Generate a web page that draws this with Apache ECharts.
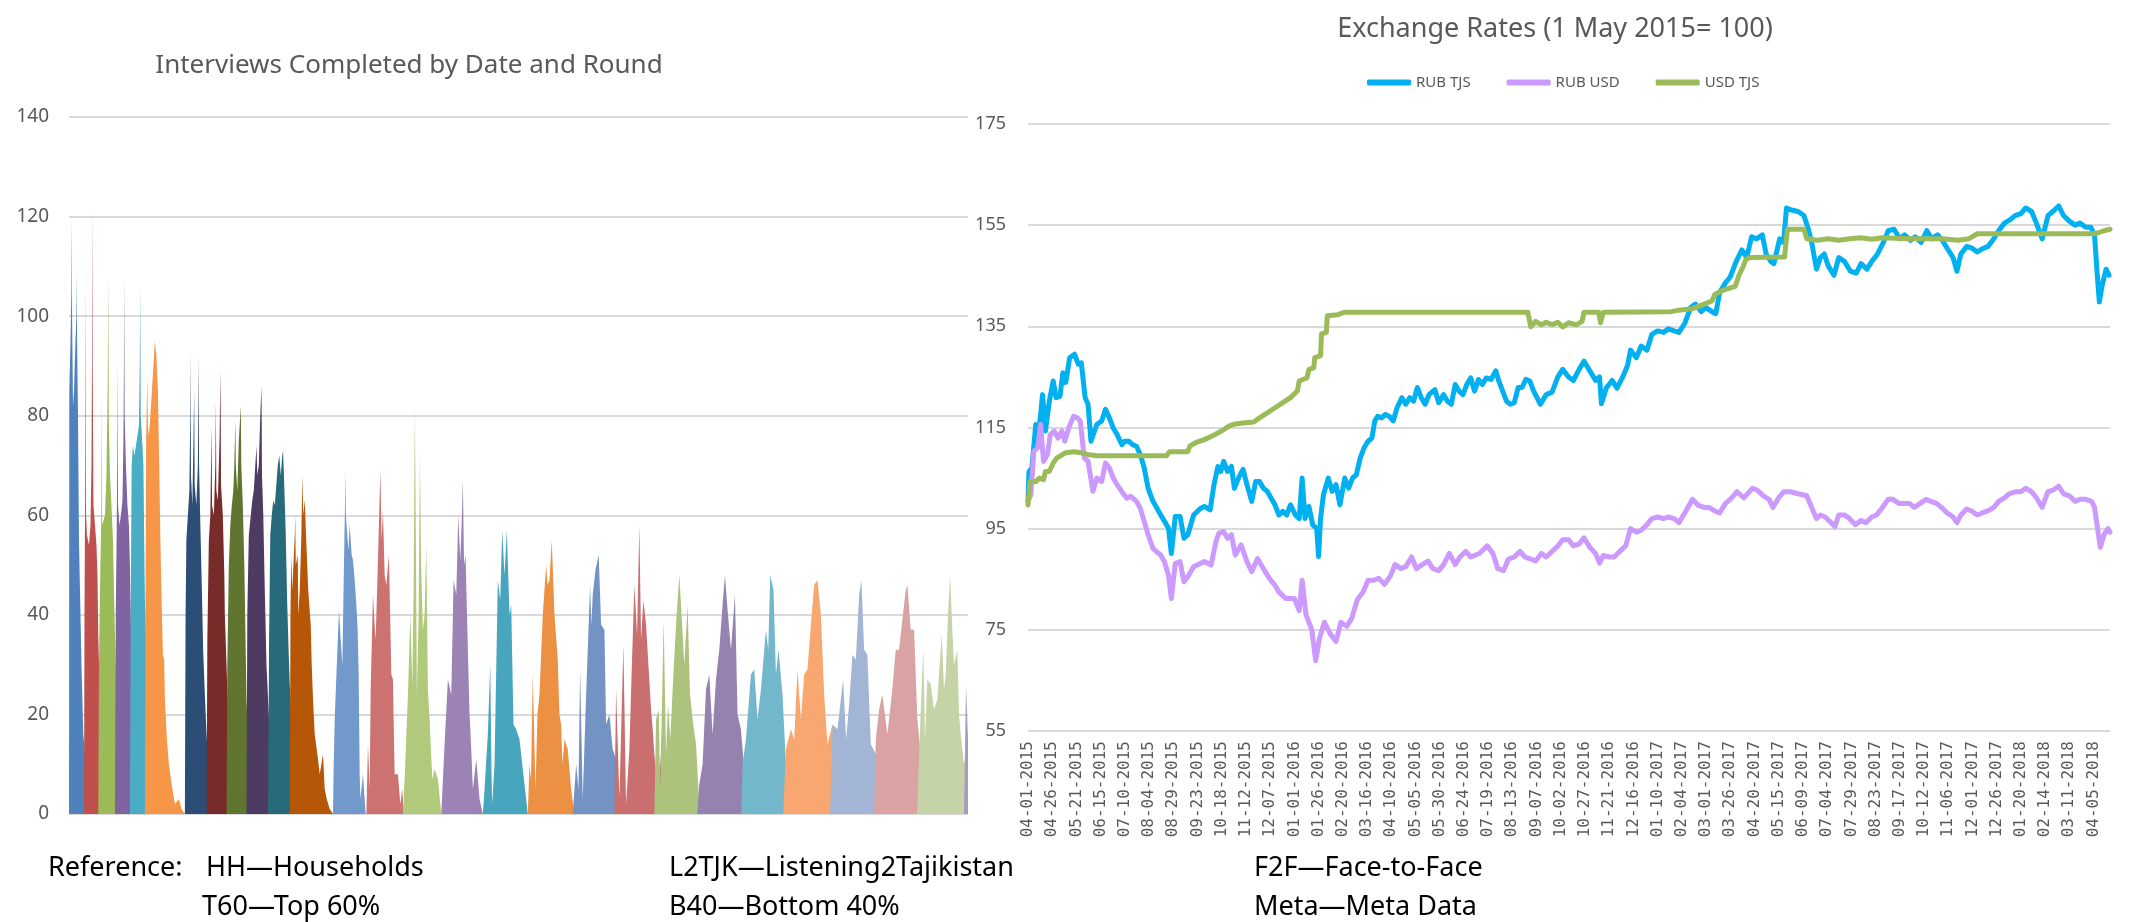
<!DOCTYPE html>
<html>
<head>
<meta charset="utf-8">
<title>Interviews and exchange rates</title>
<script src="https://cdn.jsdelivr.net/npm/echarts@6/dist/echarts.min.js"></script>
<style>
  html, body { margin: 0; padding: 0; background: #fff; }
  #main { width: 2142px; height: 922px; }
</style>
</head>
<body>
<div id="main"></div>
<script>
// left chart: interviews per day, one area per round  [day, interviews]
const r01 = [[0,0],[0.3,85],[1.5,95],[2.4,105],[2.7,120],[3.1,100],[4,82],[5,85],[6.5,95],[7.4,100],[7.7,109],[8.1,95],[9,80],[10,55],[11,45],[12.5,30],[14.3,16],[17,10],[19.3,7],[22,2],[24,0]];
const r02 = [[15,0],[15.5,40],[16.3,70],[16.7,107],[17.1,60],[18,56],[20,54],[21.5,58],[22.5,70],[23,90],[23.3,122],[23.7,90],[24.5,62],[26,58],[27.5,54],[28.5,48],[29.3,36],[31,22],[32.7,10],[34.3,4],[37,1],[40,0]];
const r03 = [[29.3,0],[30,30],[31,45],[32.3,60],[32.7,85],[33.1,58],[34.5,58],[36,60],[37.5,68],[38.7,85],[39.3,108],[39.8,80],[41,68],[42.5,62],[44,55],[45,45],[46,36],[47.5,25],[49.3,16],[51,6],[55,2],[60,1],[63,0]];
const r04 = [[46,0],[46.8,40],[47.8,58],[48.3,70],[48.7,91],[49.1,62],[50.5,58],[52,60],[53.5,63],[54.5,75],[55,90],[55.3,108],[55.7,80],[57,70],[58.5,62],[60,58],[61,50],[62.7,30],[64.3,18],[66,10],[69.3,3],[73,0]];
const r05 = [[61,0],[61.8,40],[62.7,70],[64,74],[65.5,72],[67,74],[68.5,76],[70,78],[70.8,90],[71.3,106],[71.8,80],[73,76],[74.5,70],[75.3,55],[76,43],[77.5,33],[79.3,26],[81,18],[84.3,10],[86,4],[88,0]];
const r06 = [[76,0],[76.5,40],[77.2,74],[78.3,88],[79,78],[80,76],[81.5,80],[83,85],[84.5,90],[86,95],[87.5,92],[89,85],[90.3,70],[91.5,55],[92.7,43],[94,32],[95.3,31],[96,23],[98,15],[100,10],[102.7,6],[104.3,6],[106,2],[110,3],[112.7,1],[116,0]];
const r07 = [[116,0],[116.7,40],[117.5,55],[119,60],[120.5,65],[121.4,80],[121.7,93],[122.1,68],[123.5,62],[124.6,75],[125.3,85],[125.8,66],[127.5,62],[129,70],[129.7,92],[130.2,70],[131.5,58],[132.7,48],[134.3,33],[136,24],[137.7,16],[140,9],[142.7,6],[144,0]];
const r08 = [[137.7,0],[138.5,35],[140,55],[141.5,60],[142.7,78],[143.2,62],[145,60],[146.5,70],[147,83],[147.5,65],[149,63],[150.7,75],[151.7,89],[152.2,66],[154,60],[155.5,48],[156,40],[157.7,30],[160,16],[162.5,8],[164.3,0]];
const r09 = [[157.7,0],[158.5,30],[160,50],[161.5,58],[163,62],[164.5,65],[165.5,70],[166.5,79],[167,70],[168.5,65],[170,75],[172,82],[172.5,70],[174,62],[175.5,50],[176.5,38],[177.7,23],[180,12],[182.7,4],[185,0]];
const r10 = [[177.7,0],[178.5,40],[180,56],[182,60],[183.5,63],[185,65],[186.5,70],[187.7,74],[188.5,68],[190,70],[191.5,80],[192.7,86],[193.2,68],[194.5,60],[196,45],[197.7,30],[200,20],[202,12],[204.3,6],[207,0]];
const r11 = [[199.3,0],[200.3,35],[201.5,56],[203,60],[204.5,63],[206,62],[207.5,66],[209,70],[210.5,72],[212,68],[213.5,72],[214.3,73],[215.5,66],[217,56],[218.5,42],[220,32],[221,26],[223,18],[226,10],[228,4],[231,0]];
const r12 = [[221,0],[221.7,40],[222.5,52],[223.5,45],[226,56],[226.5,60],[227,50],[229,52],[229.5,40],[231,45],[232.5,55],[233.7,68],[234.5,60],[236,63],[237.5,55],[239.5,45],[242,38],[243,30],[244.3,23],[246,16],[249.3,11],[251,8],[254.3,12],[256,5],[258,3],[261,1],[264.3,0]];
const r13 = [[264.3,0],[265,10],[266,19],[267.7,28],[269.3,36],[270.3,41],[271.7,36],[273.7,30],[275,47],[276.3,62],[276.7,69],[277.2,60],[278.3,60],[279.7,53],[281,58],[283,52],[284.3,51],[286,47],[287.7,42],[289,37],[290,28],[291,8],[291.7,3],[294.3,8],[297,0]];
const r14 = [[297.7,0],[299.3,14],[301,5],[302,25],[304.3,44],[306,38],[307,35],[309.3,51],[311.7,69],[313,55],[314.3,61],[316,48],[317.7,46],[320.3,52],[321.5,40],[322.7,28],[324.3,27],[326,8],[329.3,8],[331.7,2],[333.7,5],[335,0]];
const r15 = [[334.3,0],[336,7],[339.3,24],[341.7,40],[343.7,26],[345,45],[346.3,82],[348.3,24],[350,40],[351.3,72],[352.5,50],[354.3,37],[356,40],[357.7,54],[359.3,25],[361,19],[363.7,7],[366,9],[369.3,7],[372.7,0]];
const r16 = [[372.7,0],[376,14],[379.3,27],[382.7,24],[385,47],[387.7,44],[389.7,60],[391.7,51],[393,58],[394.3,67],[395.5,50],[397,52],[399.3,33],[401,20],[402.7,13],[404.3,5],[406,8],[407.7,11],[411,3],[414.3,0]];
const r17 = [[414.3,0],[416,5],[419.3,16],[421.7,30],[423,8],[423.7,2],[426,10],[429.3,47],[431.7,43],[433.7,57],[436,48],[438.3,57],[441,40],[442.7,42],[445,18],[447.7,17],[451,15],[454.3,9],[457.7,3],[459.3,0]];
const r18 = [[459.3,0],[461,10],[462.5,7],[464.3,28],[467,5],[469,20],[471,24],[474.3,40],[477.7,50],[479,46],[481,47],[483.3,55],[486,40],[489.3,31],[491,20],[492.7,18],[494,10],[496,15],[499.3,13],[502.7,5],[506,0]];
const r19 = [[504.3,0],[507.7,10],[510,5],[511.7,29],[514.3,3],[517.7,24],[521.7,46],[523,38],[524.3,44],[527,49],[530.3,52],[532.7,38],[536,37],[537.7,18],[541,20],[544.3,13],[547.7,11],[551,4],[554.3,3],[557,0]];
const r20 = [[546,0],[547.7,25],[551,3],[555,34],[557.7,2],[561,13],[563.5,30],[566,46],[568.7,36],[571,58],[572.7,35],[575,43],[577.7,38],[579.3,38],[582.7,21],[584,18],[586,12],[589.3,5],[592,10],[594.3,19],[597,8],[601,9],[604,0]];
const r21 = [[586,0],[587.7,19],[590.3,21],[592,5],[595.3,39],[597.7,12],[599.7,22],[602,15],[604.3,25],[607.7,38],[611,48],[613,48],[616,30],[619.3,42],[621.7,24],[624.3,19],[627.7,14],[631,2],[634,5],[638,14],[641,16],[645,12],[651,13],[654,5],[656,0]];
const r22 = [[629,0],[631,6],[634.3,10],[637.7,25],[641,28],[644.3,16],[647.7,27],[651,33],[654.3,42],[656.7,48],[659.3,41],[662.7,33],[666.7,44],[669.3,20],[672.7,17],[676,9],[679.3,12],[682.7,6],[686,10],[691,8],[697.7,7],[702.7,8],[706,0]];
const r23 = [[673,0],[674.3,10],[677.7,15],[682.7,28],[686,29],[689.3,19],[692.7,25],[697.7,37],[700,33],[702,48],[705.3,45],[707.7,28],[710.3,33],[714.3,24],[717.7,10],[724.3,7],[731,15],[737.7,11],[744.3,7],[751,2],[756,0]];
const r24 = [[715,0],[717.7,13],[722.7,17],[726,15],[729.3,29],[732.7,19],[736,28],[739.3,29],[742.7,38],[746,46],[749.3,47],[752.7,40],[756,24],[759.3,14],[764.3,18],[771,11],[776,15],[781,10],[787.7,7],[794.3,5],[801,3],[807.7,0]];
const r25 = [[762,0],[764.3,18],[769.3,17],[775,27],[778,15],[781,22],[784.3,32],[787.7,31],[791,44],[793.3,47],[796,33],[799.3,32],[802.7,14],[807.7,12],[814.3,11],[821,12],[827.7,12],[834.3,9],[841,5],[847.7,3],[852.7,0]];
const r26 = [[806,0],[807.7,15],[811,21],[814.3,24],[819.3,16],[823.7,24],[827.7,33],[831,33],[834.3,39],[837.7,45],[839.3,46],[842.7,37],[846,37],[849.3,19],[852.7,12],[857.7,11],[864.3,10],[871,9],[877.7,5],[884.3,7],[891,3],[894.3,10],[899.3,2],[900,0]];
const r27 = [[849,0],[852.7,21],[855.3,33],[857,15],[859.3,27],[862.7,26],[866,21],[869.3,23],[873.7,36],[876,25],[877.7,28],[880,40],[882,48],[884.3,37],[886,30],[889.3,33],[891,20],[892.7,16],[896,10],[900,14]];
const r28 = [[896,0],[898,26],[900,15]];

const rounds = [r01, r02, r03, r04, r05, r06, r07, r08, r09, r10, r11, r12, r13, r14,
  r15, r16, r17, r18, r19, r20, r21, r22, r23, r24, r25, r26, r27, r28];

const roundColors = [
  '#4F81BD', '#C0504D', '#9BBB59', '#8064A2', '#4BACC6', '#F79646',
  '#2C4D75', '#772C2A', '#5F7530', '#4D3B62', '#276A7C', '#B65708',
  '#7299CB', '#CC7372', '#B0C97B', '#9B84B5', '#47A6BE', '#EC9144',
  '#7493C5', '#C96F6F', '#ABC37C', '#9682AE', '#72B7CC', '#F7A76F',
  '#A2B5D5', '#D8A3A2', '#C4D4A7', '#A99BC0'
];

// right chart: days since 04-01-2015, index value (1 May 2015 = 100)
const dateLabels = ['04-01-2015','04-26-2015','05-21-2015','06-15-2015','07-10-2015','08-04-2015','08-29-2015',
  '09-23-2015','10-18-2015','11-12-2015','12-07-2015','01-01-2016','01-26-2016','02-20-2016','03-16-2016',
  '04-10-2016','05-05-2016','05-30-2016','06-24-2016','07-19-2016','08-13-2016','09-07-2016','10-02-2016',
  '10-27-2016','11-21-2016','12-16-2016','01-10-2017','02-04-2017','03-01-2017','03-26-2017','04-20-2017',
  '05-15-2017','06-09-2017','07-04-2017','07-29-2017','08-23-2017','09-17-2017','10-12-2017','11-06-2017',
  '12-01-2017','12-26-2017','01-20-2018','02-14-2018','03-11-2018','04-05-2018'];

const rubTjs = [[0,100.4],[1,106.3],[4,107],[8,115.6],[11,113.6],[15,121.5],[18,114.3],[22,120.2],[26,124.2],[29,120.9],[33,121.2],[36,125.8],[39,123.9],[43,128.8],[48,129.5],[52,127.5],[55,127.8],[59,120.9],[62,119.6],[65,112.3],[67,112],[71,115.6],[76,116.3],[80,118.6],[84,116.9],[88,114.9],[92,113.6],[97,111.6],[100,112.3],[104,112.3],[108,111.6],[112,111.3],[116,109.6],[120,107],[124,103],[129,100.4],[133,99.1],[137,97.7],[141,96.4],[145,95.1],[148,90.1],[152,97.4],[157,97.4],[161,93.1],[165,93.8],[171,97.7],[178,99],[182,99.4],[188,98.7],[192,103.7],[196,107.3],[199,106.3],[202,108.3],[206,106.3],[210,107.3],[213,103],[218,105.3],[222,106.7],[226,103.7],[231,100.4],[235,104.3],[239,104.3],[243,103],[247,102.4],[251,101],[255,99.7],[259,97.7],[263,98.4],[267,97.7],[271,99.7],[276,97.7],[280,97],[283,105],[286,97],[290,99.4],[294,95.7],[298,95.1],[300,89.5],[302,97],[305,101.7],[310,105],[314,102.4],[318,103.7],[322,99.7],[327,105],[331,103],[335,105],[339,105.7],[343,109],[347,111],[351,112.3],[355,112.9],[358,116.3],[361,117.2],[365,116.9],[369,117.6],[373,117.2],[377,116.3],[381,118.9],[386,120.9],[390,119.6],[394,120.9],[398,120.2],[402,122.9],[406,120.9],[410,119.6],[414,121.5],[420,122.5],[424,119.9],[429,121.5],[433,120.2],[437,119.6],[441,123.5],[445,122.2],[449,121.5],[453,123.5],[457,124.8],[461,122.2],[465,124.5],[469,123.5],[473,124.8],[478,124.5],[483,126.2],[486,124.2],[490,122.2],[494,120.2],[498,119.6],[502,119.9],[506,122.9],[510,122.9],[514,124.5],[518,124.2],[522,122.2],[529,119.6],[535,121.5],[541,122],[547,125],[552,126.5],[558,125],[563,124.3],[569,126.5],[574,128.1],[580,126.2],[586,124.3],[590,125],[592,119.7],[597,122.8],[603,124.3],[608,122.8],[614,125],[619,127.3],[622,130.3],[628,128.8],[633,131.1],[639,130.3],[644,133.4],[650,134.1],[656,133.8],[661,134.5],[667,134.1],[672,133.8],[678,135.6],[684,138.7],[689,139.4],[695,137.9],[700,138.7],[706,137.9],[710,137.5],[714,141.7],[720,143.6],[725,144.8],[731,147.8],[737,150.1],[742,148.6],[747,152.7],[752,152.3],[758,153.1],[762,149.3],[767,147.8],[770,147.4],[776,152.3],[780,151.6],[783,158.4],[788,158],[795,157.7],[801,156.9],[805,154.6],[809,151.6],[814,146.3],[818,148.6],[822,149.3],[826,147],[832,145.1],[837,148.6],[843,147.8],[849,145.9],[855,145.5],[860,147.4],[866,146.3],[871,147.8],[877,149.3],[883,151.6],[888,153.9],[894,154.2],[900,152.3],[905,153.1],[911,152],[916,152.7],[922,151.6],[928,153.9],[933,152.3],[939,153.1],[944,152],[950,150.1],[955,148.6],[959,145.9],[963,149.3],[969,150.8],[975,150.4],[980,149.7],[986,150.4],[991,150.8],[997,152.3],[1002,153.9],[1008,155.4],[1014,156.1],[1019,156.9],[1025,157.3],[1030,158.4],[1036,157.7],[1041,155.4],[1047,152.3],[1053,156.9],[1058,157.7],[1064,158.8],[1069,156.9],[1075,155.8],[1081,155],[1086,155.4],[1092,154.6],[1097,154.6],[1101,153.1],[1104,144.8],[1106,139.8],[1109,143.2],[1113,146.3],[1116,145.1]];

const rubUsd = [[0,100.4],[3,101.7],[6,110.3],[10,111],[13,115.6],[16,108.3],[20,109.6],[23,113.6],[27,114.3],[31,112.9],[35,114.3],[38,112.3],[42,114.9],[47,117.2],[51,116.9],[54,116.3],[58,109],[62,108.3],[67,102.4],[71,105],[76,104.3],[80,108],[84,107],[88,105],[92,103.7],[98,102],[102,101],[106,101.4],[112,100.4],[116,99],[120,96.4],[124,93.8],[129,91.1],[133,90.4],[137,89.8],[141,88.4],[145,85.8],[148,81.2],[152,88.1],[157,88.5],[161,84.5],[165,85.5],[171,87.5],[178,88.1],[182,88.5],[189,87.8],[194,92.4],[197,94.1],[202,94.4],[206,93.1],[210,93.8],[214,89.8],[220,91.8],[226,88.5],[231,86.5],[237,89.1],[243,87.1],[249,85.2],[255,83.8],[259,82.5],[266,81.2],[275,81.2],[280,78.8],[283,84.8],[287,78],[293,75],[297,68.9],[301,73.4],[306,76.5],[312,74.2],[318,72.7],[323,76.5],[329,75.7],[334,77.2],[340,81],[346,82.5],[351,84.8],[357,84.8],[362,85.2],[368,84],[374,85.6],[379,87.9],[385,87.1],[390,87.5],[396,89.4],[401,87.1],[407,87.9],[413,88.6],[418,87.1],[424,86.7],[429,87.9],[435,90.1],[441,87.9],[446,89.4],[452,90.5],[457,89.4],[466,90.1],[474,91.6],[480,90.1],[485,87.1],[491,86.7],[496,89],[502,89.4],[508,90.5],[513,89.4],[519,89],[524,88.6],[530,90.1],[535,89.4],[541,90.5],[547,91.6],[552,92.8],[558,92.8],[563,91.6],[569,92],[574,93.2],[580,91.3],[586,90.1],[590,88.2],[594,89.7],[600,89.4],[605,89.4],[611,90.5],[617,91.6],[622,95],[628,94.3],[633,94.7],[639,95.8],[644,97],[650,97.3],[656,97],[661,97.3],[667,97],[672,96.2],[678,98.1],[686,100.8],[692,99.6],[698,99.2],[703,99.2],[709,98.5],[714,98.1],[720,100],[725,100.8],[732,102.3],[739,101.1],[748,103],[753,102.6],[759,101.5],[765,100.8],[769,99.2],[775,101.1],[780,102.3],[787,102.3],[795,101.9],[804,101.5],[809,99.2],[814,97],[818,97.7],[823,97.3],[829,96.2],[833,95.4],[837,97.7],[843,97.7],[848,97],[854,95.8],[860,96.6],[865,96.2],[871,97.3],[876,97.7],[882,99.2],[888,100.8],[893,100.8],[899,100],[904,100],[910,100],[915,99.2],[921,100],[927,100.8],[932,100.4],[938,100],[943,99.2],[949,98.1],[955,97.3],[959,96.2],[963,97.7],[969,98.9],[974,98.5],[980,97.7],[985,98.1],[991,98.5],[997,99.2],[1002,100.4],[1008,101.1],[1013,101.9],[1019,102.3],[1025,102.3],[1030,103],[1036,102.3],[1041,101.1],[1047,99.2],[1053,102.3],[1058,102.6],[1064,103.4],[1069,101.9],[1075,101.5],[1081,100.4],[1086,100.8],[1092,100.8],[1098,100.4],[1101,99.2],[1105,93.9],[1107,91.3],[1111,93.9],[1115,95],[1117,94.3]];

const usdTjs = [[0,99.7],[2,104.3],[8,104.3],[12,105],[16,104.7],[18,106.3],[22,106.3],[26,108],[30,109],[35,109.6],[39,110],[47,110.2],[55,110],[63,109.6],[71,109.4],[143,109.4],[146,110.2],[165,110.2],[167,111.3],[173,112],[182,112.6],[190,113.3],[196,113.9],[202,114.6],[208,115.3],[214,115.7],[222,115.9],[233,116.1],[239,116.9],[247,117.9],[255,118.9],[263,119.9],[271,120.9],[278,122.2],[280,124.2],[288,124.8],[290,126.5],[295,126.8],[296,128.8],[302,129.2],[303,133.5],[308,133.8],[309,137.1],[320,137.3],[327,137.8],[516,137.8],[519,134.9],[524,136],[530,135.3],[535,135.8],[541,135.3],[547,135.8],[552,134.9],[558,135.7],[566,135.3],[572,136],[574,137.8],[589,137.8],[591,135.7],[594,137.8],[664,137.9],[672,138.2],[686,138.5],[698,139.4],[706,140],[709,141.3],[717,142.1],[725,142.6],[730,142.9],[734,145.1],[738,146.7],[741,148.2],[745,148.6],[781,148.7],[784,154.2],[801,154.2],[804,152.3],[815,152],[826,152.3],[837,152],[848,152.3],[860,152.5],[871,152.2],[882,152.5],[910,152.3],[943,152.3],[960,152],[971,152.3],[980,153.3],[1100,153.3],[1105,153.5],[1111,153.9],[1117,154.2]];

const rateNames = ['RUB TJS', 'RUB USD', 'USD TJS'];
const rateColors = ['#00B0F0', '#CC99FF', '#9BBB59'];

const chart = echarts.init(document.getElementById('main'));

const gray = '#595959';
const gridLine = { lineStyle: { color: '#D9D9D9', width: 2 } };

const roundSeries = rounds.map((pts, i) => ({
  name: 'Round ' + (i + 1),
  type: 'line',
  xAxisIndex: 0,
  yAxisIndex: 0,
  data: pts,
  symbol: 'none',
  lineStyle: { width: 0 },
  areaStyle: { color: roundColors[i], opacity: 1 },
  silent: true
}));

const rateSeries = [rubTjs, rubUsd, usdTjs].map((pts, i) => ({
  name: rateNames[i],
  type: 'line',
  xAxisIndex: 1,
  yAxisIndex: 1,
  data: pts,
  symbol: 'none',
  lineStyle: { width: 5, color: rateColors[i], cap: 'round', join: 'round' },
  itemStyle: { color: rateColors[i] }
}));

const noteFont = { fontFamily: 'Liberation Sans Narrow, Noto Sans, sans-serif', fontSize: 27, fill: '#000' };
const note = (x, y, text) => ({ type: 'text', left: x, top: y, style: Object.assign({ text: text }, noteFont) });

chart.setOption({
  animation: false,
  backgroundColor: '#fff',
  title: [
    {
      text: 'Interviews Completed by Date and Round',
      left: 404, top: 48, textAlign: 'center',
      textStyle: { fontFamily: 'Noto Sans', fontSize: 26, fontWeight: 'normal', color: gray }
    },
    {
      text: 'Exchange Rates (1 May 2015= 100)',
      left: 1550, top: 11, textAlign: 'center',
      textStyle: { fontFamily: 'Liberation Sans Narrow, Noto Sans', fontSize: 27, fontWeight: 'normal', color: gray }
    }
  ],
  legend: {
    data: rateNames,
    left: 1362, top: 70,
    itemWidth: 44, itemHeight: 6, itemGap: 36,
    icon: 'roundRect',
    textStyle: { fontFamily: 'Liberation Sans Narrow, Noto Sans', fontSize: 15, color: gray }
  },
  grid: [
    { left: 69, right: 1174, top: 117, bottom: 108 },
    { left: 1028, right: 32, top: 124, bottom: 191 }
  ],
  xAxis: [
    {
      gridIndex: 0, type: 'value', min: 0, max: 900,
      axisLine: { show: false }, axisTick: { show: false }, axisLabel: { show: false }, splitLine: { show: false }
    },
    {
      gridIndex: 1, type: 'value', min: 0, max: 1117, interval: 25,
      axisLine: { show: false }, axisTick: { show: false }, splitLine: { show: false },
      axisLabel: {
        rotate: 90, margin: 10, showMaxLabel: false,
        fontFamily: 'DejaVu Sans Mono', fontSize: 16, color: gray,
        formatter: v => (v % 25 === 0 && dateLabels[v / 25]) ? dateLabels[v / 25] : ''
      }
    }
  ],
  yAxis: [
    {
      gridIndex: 0, type: 'value', min: 0, max: 140, interval: 20,
      axisLine: { show: false }, axisTick: { show: false }, splitLine: gridLine,
      axisLabel: { fontFamily: 'Noto Sans', fontSize: 19, color: gray, margin: 20 }
    },
    {
      gridIndex: 1, type: 'value', min: 55, max: 175, interval: 20,
      axisLine: { show: false }, axisTick: { show: false }, splitLine: gridLine,
      axisLabel: { fontFamily: 'Noto Sans', fontSize: 18, color: gray, margin: 22 }
    }
  ],
  series: roundSeries.concat(rateSeries),
  graphic: [
    note(48, 855, 'Reference:'),
    note(206, 855, 'HH\u2014Households'),
    note(202, 894, 'T60\u2014Top 60%'),
    note(669, 855, 'L2TJK\u2014Listening2Tajikistan'),
    note(669, 894, 'B40\u2014Bottom 40%'),
    note(1254, 855, 'F2F\u2014Face-to-Face'),
    note(1254, 894, 'Meta\u2014Meta Data')
  ]
});
</script>
</body>
</html>
